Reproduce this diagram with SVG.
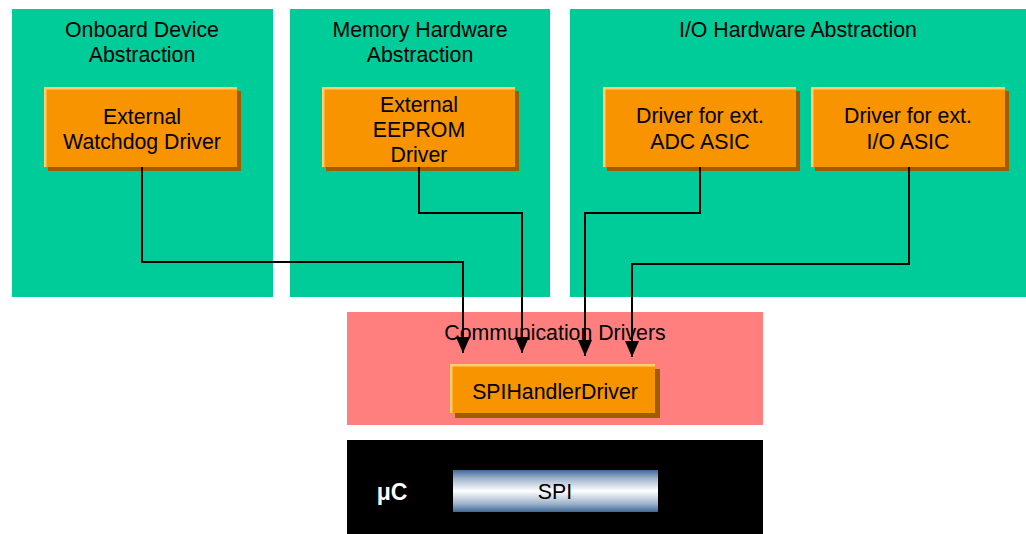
<svg xmlns="http://www.w3.org/2000/svg" width="1026" height="534" viewBox="0 0 1026 534">
<style>
text{font-family:"Liberation Sans",Arial,sans-serif;font-size:21.3px;fill:#000;text-anchor:middle}
.layer{fill:#00CC99}
.hl{fill:#FFCC70}
.sh{fill:#A05C00}
.main{fill:#F79400}
.conn{fill:none;stroke:#000;stroke-width:2}
</style>
<defs>
<marker id="arr" markerUnits="userSpaceOnUse" viewBox="0 0 16 14" markerWidth="16" markerHeight="14" refX="16" refY="7" orient="auto">
<path d="M0,0 L16,7 L0,14 z" fill="#000"/>
</marker>
<linearGradient id="spiGrad" x1="0" y1="0" x2="0" y2="1">
<stop offset="0" stop-color="#3F6898"/>
<stop offset="0.2" stop-color="#9FB3CB"/>
<stop offset="0.5" stop-color="#FFFFFF"/>
<stop offset="0.8" stop-color="#9FB3CB"/>
<stop offset="1" stop-color="#3F6898"/>
</linearGradient>
</defs>
<rect width="1026" height="534" fill="#fff"/>
<g id="onboard-layer">
<rect class="layer" x="12" y="9" width="261" height="288"/>
<text x="142" y="37">Onboard Device</text>
<text x="142" y="62">Abstraction</text>
</g>
<g id="memory-layer">
<rect class="layer" x="290" y="9" width="260" height="288"/>
<text x="420" y="37">Memory Hardware</text>
<text x="420" y="62">Abstraction</text>
</g>
<g id="io-layer">
<rect class="layer" x="570" y="9" width="456" height="288"/>
<text x="798" y="37">I/O Hardware Abstraction</text>
</g>
<g id="watchdog">
<rect class="sh" x="48" y="91" width="193" height="80"/>
<rect class="hl" x="44" y="87" width="193" height="80"/>
<rect class="main" x="46.5" y="89.5" width="190.5" height="77.5"/>
<text x="142" y="124">External</text>
<text x="142" y="149">Watchdog Driver</text>
</g>
<g id="eeprom">
<rect class="sh" x="326" y="91" width="193" height="80"/>
<rect class="hl" x="322" y="87" width="193" height="80"/>
<rect class="main" x="324.5" y="89.5" width="190.5" height="77.5"/>
<text x="419" y="112">External</text>
<text x="419" y="137">EEPROM</text>
<text x="419" y="162">Driver</text>
</g>
<g id="adc">
<rect class="sh" x="607" y="91" width="193" height="80"/>
<rect class="hl" x="603" y="87" width="193" height="80"/>
<rect class="main" x="605.5" y="89.5" width="190.5" height="77.5"/>
<text x="700" y="123">Driver for ext.</text>
<text x="700" y="149">ADC ASIC</text>
</g>
<g id="ioasic">
<rect class="sh" x="815" y="91" width="194" height="80"/>
<rect class="hl" x="811" y="87" width="194" height="80"/>
<rect class="main" x="813.5" y="89.5" width="191.5" height="77.5"/>
<text x="908" y="123">Driver for ext.</text>
<text x="908" y="149">I/O ASIC</text>
</g>
<g id="comm-layer">
<rect x="347" y="312" width="416" height="113" fill="#FF7F7F"/>
<text x="555" y="340">Communication Drivers</text>
</g>
<g id="spihandler">
<rect class="sh" x="455" y="369" width="205" height="49"/>
<rect class="hl" x="450" y="364" width="205" height="49"/>
<rect class="main" x="452.5" y="366.5" width="202.5" height="46.5"/>
<text x="555" y="399">SPIHandlerDriver</text>
</g>
<g id="uc">
<rect x="347" y="440" width="416" height="94" fill="#000"/>
<text x="392" y="500" style="fill:#fff;font-weight:bold;font-size:23px">μC</text>
</g>
<g id="spi">
<rect x="453" y="470" width="205" height="42" fill="url(#spiGrad)"/>
<text x="555" y="499">SPI</text>
</g>
<g id="connectors">
<path class="conn" d="M142,167 V262 H463 V353" marker-end="url(#arr)"/>
<path class="conn" d="M419,167 V213 H522 V353" marker-end="url(#arr)"/>
<path class="conn" d="M700,167 V213 H585 V356" marker-end="url(#arr)"/>
<path class="conn" d="M909,167 V264 H632 V357" marker-end="url(#arr)"/>
</g>
</svg>
